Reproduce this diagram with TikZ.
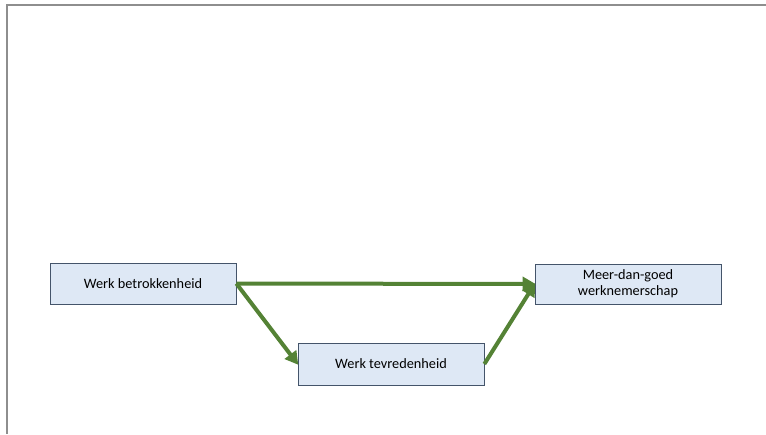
\documentclass[tikz,border=0pt]{standalone}
\usepackage{fontspec}
\setmainfont{Carlito}
\usetikzlibrary{arrows.meta}
\definecolor{boxfill}{HTML}{DEE8F5}
\definecolor{boxline}{HTML}{44546A}
\definecolor{arrowgreen}{HTML}{548235}
\definecolor{framegray}{HTML}{8E8E8E}
\begin{document}
\begin{tikzpicture}[x=1pt,y=-1pt,
  concept/.style={draw=boxline, line width=0.7pt, fill=boxfill, minimum width=186pt,
    minimum height=41pt, inner sep=2pt, align=center, font=\fontsize{14.3}{16}\selectfont,
    text=black},
  link/.style={draw=arrowgreen, line width=4pt,
    -{Triangle[length=13pt,width=14pt]}, shorten >=-1pt}]
  \useasboundingbox (0,0) rectangle (766,434);
  % page frame (top and left edges)
  \draw[framegray, line width=2pt] (766,5) -- (7,5) -- (7,434);
  % concepts
  \node[concept] (A) at (143,283.5) {Werk betrokkenheid};
  \node[concept, minimum height=40pt] (C) at (628,284) {Meer-dan-goed\\werknemerschap};
  \node[concept, minimum height=42pt] (B) at (391,364) {Werk tevredenheid};
  % paths
  \draw[link] (A.east) -- (C.west);
  \draw[link] (A.east) -- (B.west);
  \draw[link] (B.east) -- (C.west);
\end{tikzpicture}
\end{document}
